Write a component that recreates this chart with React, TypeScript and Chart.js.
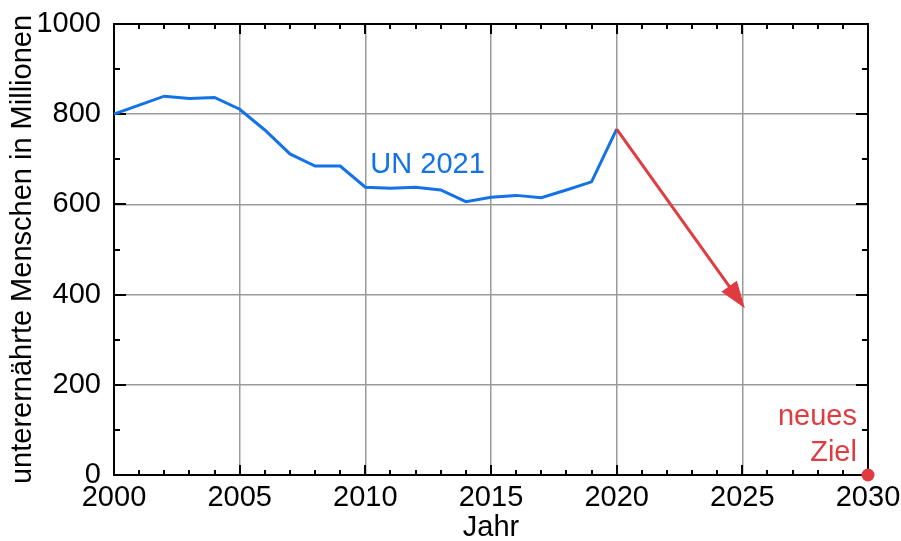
import React, { useEffect, useRef } from "react";
import { Chart, registerables } from "chart.js";

Chart.register(...registerables);

// ---- data ----
const years = [2000, 2001, 2002, 2003, 2004, 2005, 2006, 2007, 2008, 2009, 2010, 2011, 2012, 2013, 2014, 2015, 2016, 2017, 2018, 2019, 2020];
const undernourishedMillions = [800, 820, 840, 835, 837, 811, 765, 712, 685, 685, 638, 636, 638, 632, 606, 616, 620, 615, 632, 650, 767];
const arrowStart = [2020, 767];
const arrowEnd = [2025.1, 370];
const goalPoint = [2030, 0];
const xTickValues = [2000, 2005, 2010, 2015, 2020, 2025, 2030];
const yTickValues = [0, 200, 400, 600, 800, 1000];
const xMinorStep = 1;
const yMinorStep = 100;
const seriesLabel = "UN 2021";
const seriesLabelAt = [2010.2, 670];
const goalLabelLines = ["neues", "Ziel"];
const goalLabelAt = [[2029.56, 111], [2029.56, 31]];
const xTitle = "Jahr";
const yTitle = "unterernährte Menschen in Millionen";

const FONT = "'Liberation Sans', Arial, Helvetica, sans-serif";
const BLUE = "#1372e6";
const RED = "#df3b41";

const framePlugin = {
  id: "frameTicks",
  beforeDatasetsDraw(chart: any) {
    const { ctx, chartArea: a, scales } = chart;
    const x = scales.x;
    const y = scales.y;
    ctx.save();
    ctx.strokeStyle = "#000";
    ctx.lineWidth = 2;
    ctx.beginPath();
    for (let v = xTickValues[0]; v <= xTickValues[xTickValues.length - 1] + 1e-9; v += xMinorStep) {
      const px = Math.round(x.getPixelForValue(v));
      const len = xTickValues.includes(v) ? 10 : 5;
      ctx.moveTo(px, a.bottom);
      ctx.lineTo(px, a.bottom - len);
      ctx.moveTo(px, a.top);
      ctx.lineTo(px, a.top + len);
    }
    for (let v = yTickValues[0]; v <= yTickValues[yTickValues.length - 1] + 1e-9; v += yMinorStep) {
      const py = Math.round(y.getPixelForValue(v));
      const len = yTickValues.includes(v) ? 12 : 6;
      ctx.moveTo(a.left, py);
      ctx.lineTo(a.left + len, py);
      ctx.moveTo(a.right, py);
      ctx.lineTo(a.right - len, py);
    }
    ctx.stroke();
    ctx.strokeRect(a.left, a.top, a.right - a.left, a.bottom - a.top);
    ctx.restore();
  },
  afterDatasetsDraw(chart: any) {
    const { ctx, scales } = chart;
    const x = scales.x;
    const y = scales.y;
    ctx.save();
    // arrow
    const x0 = x.getPixelForValue(arrowStart[0]);
    const y0 = y.getPixelForValue(arrowStart[1]);
    const x1 = x.getPixelForValue(arrowEnd[0]);
    const y1 = y.getPixelForValue(arrowEnd[1]);
    const dx = x1 - x0;
    const dy = y1 - y0;
    const L = Math.hypot(dx, dy);
    const ux = dx / L;
    const uy = dy / L;
    const headLen = 27;
    const headHalf = 9.5;
    ctx.strokeStyle = RED;
    ctx.lineWidth = 3;
    ctx.beginPath();
    ctx.moveTo(x0, y0);
    ctx.lineTo(x1 - ux * (headLen - 3), y1 - uy * (headLen - 3));
    ctx.stroke();
    const bx = x1 - ux * headLen;
    const by = y1 - uy * headLen;
    ctx.fillStyle = RED;
    ctx.beginPath();
    ctx.moveTo(x1, y1);
    ctx.lineTo(bx - uy * headHalf, by + ux * headHalf);
    ctx.lineTo(bx + uy * headHalf, by - ux * headHalf);
    ctx.closePath();
    ctx.fill();

    // labels
    ctx.font = `29px ${FONT}`;
    ctx.textBaseline = "alphabetic";
    ctx.fillStyle = BLUE;
    ctx.textAlign = "left";
    ctx.fillText(seriesLabel, x.getPixelForValue(seriesLabelAt[0]), y.getPixelForValue(seriesLabelAt[1]));
    ctx.fillStyle = RED;
    ctx.textAlign = "right";
    goalLabelLines.forEach((t, i) => {
      ctx.fillText(t, x.getPixelForValue(goalLabelAt[i][0]), y.getPixelForValue(goalLabelAt[i][1]));
    });
    ctx.restore();
  },
};

export default function App() {
  const canvasRef = useRef<HTMLCanvasElement | null>(null);

  useEffect(() => {
    document.body.style.margin = "0";
    const canvas = canvasRef.current;
    if (!canvas) return;
    const chart = new Chart(canvas, {
      type: "line",
      data: {
        datasets: [
          {
            label: seriesLabel,
            data: years.map((yr, i) => ({ x: yr, y: undernourishedMillions[i] })),
            borderColor: BLUE,
            borderWidth: 3,
            pointRadius: 0,
            tension: 0,
            fill: false,
          },
          {
            label: "Ziel",
            data: [{ x: goalPoint[0], y: goalPoint[1] }],
            showLine: false,
            pointRadius: 6.5,
            pointBackgroundColor: RED,
            pointBorderWidth: 0,
            clip: false,
          } as any,
        ],
      },
      options: {
        animation: false,
        responsive: false,
        maintainAspectRatio: false,
        layout: { padding: { top: 24, right: 33, left: 0, bottom: 0 } },
        plugins: { legend: { display: false }, tooltip: { enabled: false } },
        scales: {
          x: {
            type: "linear",
            min: xTickValues[0],
            max: xTickValues[xTickValues.length - 1],
            afterBuildTicks: (s: any) => {
              s.ticks = xTickValues.map((v) => ({ value: v }));
            },
            afterFit: (s: any) => {
              s.height = 66;
              s.paddingLeft = 0;
              s.paddingRight = 0;
              s.paddingTop = 0;
              s.paddingBottom = 0;
            },
            ticks: {
              autoSkip: false,
              maxRotation: 0,
              padding: 6,
              color: "#000",
              font: { family: FONT, size: 29 },
              callback: (v: any) => String(v),
            },
            grid: { color: "#9a9a9a", lineWidth: 1.5, drawTicks: false },
            border: { display: false },
            title: {
              display: true,
              text: xTitle,
              color: "#000",
              font: { family: FONT, size: 29, lineHeight: 1 },
              padding: { top: 0, bottom: -1 },
            },
          },
          y: {
            type: "linear",
            min: yTickValues[0],
            max: yTickValues[yTickValues.length - 1],
            afterBuildTicks: (s: any) => {
              s.ticks = yTickValues.map((v) => ({ value: v }));
            },
            afterFit: (s: any) => {
              s.width = 114;
              s.paddingLeft = 0;
              s.paddingRight = 0;
              s.paddingTop = 0;
              s.paddingBottom = 0;
            },
            ticks: {
              padding: 13,
              color: "#000",
              font: { family: FONT, size: 29 },
              callback: (v: any) => String(v),
            },
            grid: { color: "#9a9a9a", lineWidth: 1.5, drawTicks: false },
            border: { display: false },
            title: {
              display: true,
              text: yTitle,
              color: "#000",
              font: { family: FONT, size: 29, lineHeight: 1 },
              padding: { top: 8, bottom: 0 },
            },
          },
        },
      },
      plugins: [framePlugin],
    } as any);
    return () => chart.destroy();
  }, []);

  return (
    <div style={{ width: 901, height: 541, position: "relative" }}>
      <canvas ref={canvasRef} width={901} height={541} style={{ display: "block" }} />
    </div>
  );
}
